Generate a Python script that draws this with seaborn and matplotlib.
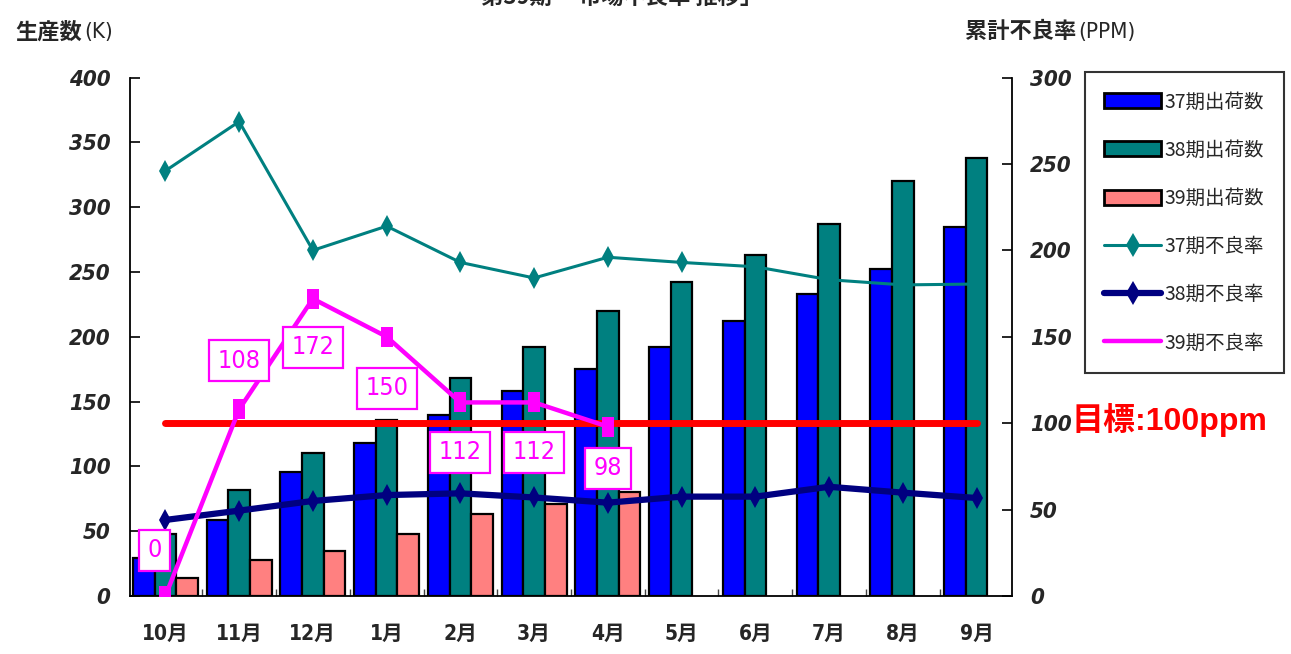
import numpy as np
import pandas as pd
import matplotlib
matplotlib.use("Agg")
import matplotlib.pyplot as plt
from matplotlib.patches import Patch
from matplotlib.lines import Line2D
from matplotlib.ticker import MultipleLocator, FixedLocator
import seaborn as sns

# ---------------- data ----------------
months = ['10月', '11月', '12月', '1月', '2月', '3月', '4月', '5月', '6月', '7月', '8月', '9月']
ship37 = [29, 59, 96, 118, 140, 158, 175, 192, 212, 233, 252, 285]
ship38 = [48, 82, 110, 136, 168, 192, 220, 242, 263, 287, 320, 338]
ship39 = [14, 28, 35, 48, 63, 71, 80]
rate37 = [246, 274.5, 200, 214, 193, 184, 196, 193, 190.5, 183, 180, 180.5]
rate38 = [44, 49.4, 55, 58.4, 59.4, 57, 54, 57.5, 57.5, 63.2, 59.8, 56.7]
rate39 = [0, 108, 172, 150, 112, 112, 98]
target = 100
series_ship = ['37期出荷数', '38期出荷数', '39期出荷数']
series_rate = ['37期不良率', '38期不良率', '39期不良率']

# ---------------- styles ----------------
sns.set_style('white')
CJK = ['Noto Sans CJK JP', 'DejaVu Sans']
COND = ['DejaVu Sans', 'Noto Sans CJK JP']
plt.rcParams['font.family'] = CJK

C_BLUE = '#0000FF'
C_TEAL = '#008080'
C_SALMON = '#FF8080'
C_NAVY = '#000080'
C_MAG = '#FF00FF'
C_RED = '#FF0000'

rows = []
for m, v in zip(months, ship37):
    rows.append((m, series_ship[0], v))
for m, v in zip(months, ship38):
    rows.append((m, series_ship[1], v))
for m, v in zip(months, ship39):
    rows.append((m, series_ship[2], v))
df = pd.DataFrame(rows, columns=['month', 'series', 'value'])

fig = plt.figure(figsize=(12.91, 6.54), dpi=100)
ax = fig.add_axes([130 / 1291, 1 - 596 / 654, 882 / 1291, (596 - 77.5) / 654])

sns.barplot(data=df, x='month', y='value', hue='series', order=months,
            hue_order=series_ship,
            palette={series_ship[0]: C_BLUE, series_ship[1]: C_TEAL, series_ship[2]: C_SALMON},
            width=0.88, errorbar=None, edgecolor='black', linewidth=1.6,
            saturation=1, legend=False, ax=ax)

XL = (-0.48, 11.48)
ax.set_ylim(0, 400)
ax.set_xlim(*XL)
ax.set_xlabel('')
ax.set_ylabel('')
ax.yaxis.set_major_locator(MultipleLocator(50))
ax.tick_params(axis='y', direction='in', length=7, width=1.2, color='black',
               left=True, labelsize=16, pad=14)
ax.tick_params(axis='x', which='major', length=0, labelsize=15, pad=20)
ax.xaxis.set_minor_locator(FixedLocator(np.arange(0.5, 11, 1)))
ax.tick_params(axis='x', which='minor', direction='in', length=5, width=1, color='#444444', bottom=True)
for lab in ax.get_yticklabels():
    lab.set_fontfamily(COND)
    lab.set_fontstretch('condensed')
    lab.set_fontweight('bold')
    lab.set_fontstyle('oblique')
for lab in ax.get_xticklabels():
    lab.set_fontfamily(COND)
    lab.set_fontstretch('condensed')
    lab.set_fontweight('bold')

for side in ['top', 'right']:
    ax.spines[side].set_visible(False)
for side in ['left', 'bottom']:
    ax.spines[side].set_color('black')
    ax.spines[side].set_linewidth(1.3)

# ---------------- right axis: rates ----------------
ax2 = ax.twinx()
xpos = np.arange(len(months))

sns.lineplot(x=xpos, y=rate37, ax=ax2, color=C_TEAL, lw=2.2, marker='d',
             markersize=11, markeredgewidth=0, zorder=3)
sns.lineplot(x=xpos, y=rate38, ax=ax2, color=C_NAVY, lw=4.5, marker='d',
             markersize=11, markeredgewidth=0, zorder=3)
sns.lineplot(x=[xpos[0], xpos[-1]], y=[target, target], ax=ax2, color=C_RED,
             lw=5, solid_capstyle='round', zorder=4)
rect_marker = [(-0.6, -1), (0.6, -1), (0.6, 1), (-0.6, 1), (-0.6, -1)]
sns.lineplot(x=xpos[:len(rate39)], y=rate39, ax=ax2, color=C_MAG, lw=3.2,
             marker=rect_marker, markersize=15, markeredgewidth=0, zorder=5)

# data labels for 39期
offsets = [(-8, 33), (0, 35), (0, -35), (0, -37), (0, -36), (0, -36), (0, -30)]
for i, (v, off) in enumerate(zip(rate39, offsets)):
    ax2.annotate(str(v), xy=(xpos[i], v), xytext=off, textcoords='offset points',
                 ha='center', va='center', fontsize=18, color=C_MAG,
                 family='DejaVu Sans', fontstretch='condensed', zorder=6,
                 bbox=dict(boxstyle='square,pad=0.34', fc='white', ec=C_MAG, lw=1.6))

ax2.set_ylim(0, 300)
ax2.set_xlim(*XL)
ax2.set_ylabel('')
ax2.set_xlabel('')
ax2.yaxis.set_major_locator(MultipleLocator(50))
ax2.tick_params(axis='y', direction='in', length=7, width=1.2, color='black',
                right=True, labelsize=16, pad=13)
for lab in ax2.get_yticklabels():
    lab.set_fontfamily(COND)
    lab.set_fontstretch('condensed')
    lab.set_fontweight('bold')
    lab.set_fontstyle('oblique')
for side in ['top', 'left', 'bottom']:
    ax2.spines[side].set_visible(False)
ax2.spines['right'].set_color('black')
ax2.spines['right'].set_linewidth(1.3)

# ---------------- texts ----------------
fig.text(15 / 1291, 1 - 32 / 654, '生産数', fontsize=16, fontweight='bold',
         ha='left', va='center')
fig.text(84 / 1291, 1 - 32 / 654, '(K)', fontsize=16, family='DejaVu Sans',
         fontstretch='condensed', ha='left', va='center')
fig.text(965 / 1291, 1 - 32 / 654, '累計不良率', fontsize=16, fontweight='bold',
         ha='left', va='center')
fig.text(1078 / 1291, 1 - 32 / 654, '(PPM)', fontsize=16, family='DejaVu Sans',
         fontstretch='condensed', ha='left', va='center')
fig.text(622 / 1291, 1 - 9 / 654, '第39期 「市場不良率 推移」', fontsize=16,
         fontweight='bold', ha='center', va='bottom')
fig.text(1071 / 1291, 1 - 420 / 654, '目標:100ppm', fontsize=23, fontweight='bold',
         color=C_RED, family=['Liberation Sans', 'Noto Sans CJK JP'],
         ha='left', va='center')

# ---------------- legend ----------------
handles = [
    Patch(facecolor=C_BLUE, edgecolor='black', linewidth=2),
    Patch(facecolor=C_TEAL, edgecolor='black', linewidth=2),
    Patch(facecolor=C_SALMON, edgecolor='black', linewidth=2),
    Line2D([], [], color=C_TEAL, lw=2.2, marker='d', markersize=12, markeredgewidth=0),
    Line2D([], [], color=C_NAVY, lw=4.5, marker='d', markersize=12, markeredgewidth=0),
    Line2D([], [], color=C_MAG, lw=3.2),
]
leg = fig.legend(handles, series_ship + series_rate, loc='upper left',
                 bbox_to_anchor=(1085 / 1291, 1 - 72 / 654), bbox_transform=fig.transFigure,
                 frameon=True, fancybox=False, shadow=False, borderaxespad=0,
                 prop={'family': CJK, 'size': 14}, handlelength=2.9, handleheight=0.8,
                 handletextpad=0.2, labelspacing=1.4, borderpad=1.0)
leg.get_frame().set_edgecolor('black')
leg.get_frame().set_linewidth(1.5)

fig.savefig('out.png', dpi=100, facecolor='white')
